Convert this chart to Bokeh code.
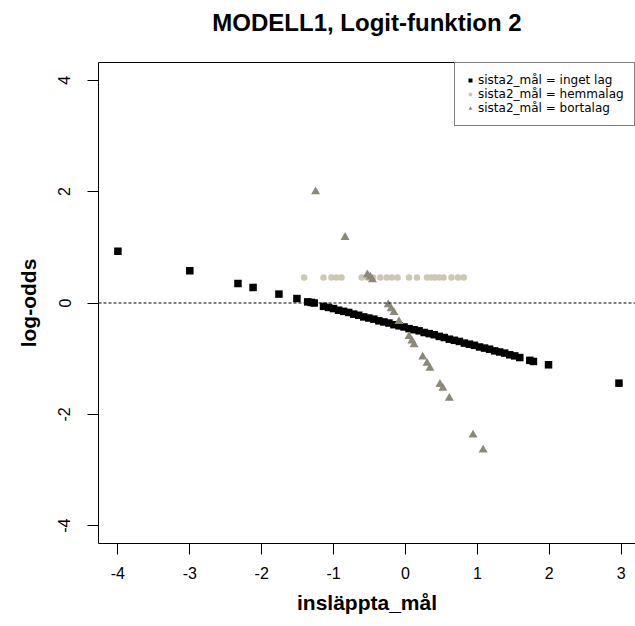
from bokeh.plotting import figure
from bokeh.models import Range1d, LinearAxis, FixedTicker, Span, Legend, LegendItem
from bokeh.embed import file_html
from bokeh.resources import INLINE

title_text = "MODELL1, Logit-funktion 2"
x_label = "insläppta_mål"
y_label = "log-odds"
series_labels = ["sista2_mål = inget lag", "sista2_mål = hemmalag", "sista2_mål = bortalag"]
series_colors = ["#000000", "#CDC8B1", "#8B8878"]

x_ticks = [-4, -3, -2, -1, 0, 1, 2, 3]
x_tick_labels = ["-4", "-3", "-2", "-1", "0", "1", "2", "3"]
y_ticks = [-4, -2, 0, 2, 4]
y_tick_labels = ["-4", "-2", "0", "2", "4"]

# inget lag (black squares)
inget_x = [-4.00, -3.00, -2.33, -2.12, -1.76, -1.51, -1.36, -1.31, -1.27,
           -1.14, -1.07, -1.00, -0.93, -0.86, -0.79, -0.72, -0.65, -0.58, -0.51,
           -0.44, -0.37, -0.30, -0.23, -0.16, -0.09, -0.02, 0.05, 0.12, 0.19,
           0.26, 0.33, 0.40, 0.47, 0.54, 0.61, 0.68, 0.75, 0.82, 0.89,
           0.96, 1.03, 1.10, 1.17, 1.24, 1.31, 1.38, 1.45, 1.52, 1.59,
           1.73, 1.78, 1.99, 2.97]
inget_y = [0.93, 0.58, 0.35, 0.28, 0.16, 0.08, 0.02, 0.01, 0.00,
           -0.06, -0.08, -0.10, -0.13, -0.15, -0.17, -0.20, -0.22, -0.25, -0.27,
           -0.29, -0.32, -0.34, -0.36, -0.39, -0.41, -0.43, -0.46, -0.48, -0.50,
           -0.53, -0.55, -0.57, -0.60, -0.62, -0.65, -0.67, -0.69, -0.72, -0.74,
           -0.76, -0.79, -0.81, -0.83, -0.86, -0.88, -0.90, -0.93, -0.95, -0.98,
           -1.03, -1.05, -1.11, -1.44]

# hemmalag (beige circles)
hemma_x = [-1.41, -1.14, -1.03, -0.96, -0.89, -0.61, -0.53, -0.45, -0.35,
           -0.26, -0.19, -0.11, 0.05, 0.16, 0.30, 0.36, 0.41, 0.47, 0.53,
           0.64, 0.73, 0.81]
hemma_y = [0.46, 0.46, 0.46, 0.46, 0.46, 0.46, 0.46, 0.46, 0.46,
           0.46, 0.46, 0.46, 0.46, 0.46, 0.46, 0.46, 0.46, 0.46, 0.46,
           0.46, 0.46, 0.46]

# bortalag (grey triangles)
borta_x = [-1.25, -0.84, -0.53, -0.49, -0.46, -0.24, -0.20, -0.16, -0.09,
           0.05, 0.09, 0.12, 0.24, 0.30, 0.34, 0.48, 0.52, 0.61, 0.94, 1.08]
borta_y = [2.00, 1.18, 0.51, 0.47, 0.42, -0.03, -0.10, -0.17, -0.33,
           -0.60, -0.68, -0.75, -0.97, -1.08, -1.17, -1.46, -1.53, -1.71, -2.37, -2.64]

FONT = "Liberation Sans"

p = figure(width=635, height=626,
           x_range=Range1d(-4.27, 3.20), y_range=Range1d(-4.32, 4.32),
           output_backend="svg", toolbar_location=None,
           min_border_left=98, min_border_right=0,
           min_border_top=62, min_border_bottom=83)

p.outline_line_color = None
p.grid.visible = False
p.background_fill_color = "white"
p.border_fill_color = "white"

xa = p.xaxis[0]
ya = p.yaxis[0]
xa.ticker = FixedTicker(ticks=x_ticks)
xa.major_label_overrides = {t: l for t, l in zip(x_ticks, x_tick_labels)}
ya.ticker = FixedTicker(ticks=y_ticks)
ya.major_label_overrides = {t: l for t, l in zip(y_ticks, y_tick_labels)}
ya.major_label_orientation = "parallel"
xa.axis_label = x_label
ya.axis_label = y_label

for ax in (xa, ya):
    ax.axis_line_color = "black"
    ax.axis_line_width = 1
    ax.major_tick_line_color = "black"
    ax.major_tick_out = 11
    ax.major_tick_in = 0
    ax.minor_tick_line_color = None
    ax.major_label_text_font = FONT
    ax.major_label_text_font_size = "16px"
    ax.major_label_text_color = "black"
    ax.axis_label_text_font = FONT
    ax.axis_label_text_font_size = "21px"
    ax.axis_label_text_font_style = "bold"
    ax.axis_label_text_color = "black"

xa.major_label_standoff = 12
xa.axis_label_standoff = 9
ya.major_label_standoff = 17
ya.axis_label_standoff = 16

# top frame edge carrying the chart title
top_axis = LinearAxis(ticker=FixedTicker(ticks=[]), axis_line_color="black",
                      major_tick_line_color=None, minor_tick_line_color=None,
                      major_tick_out=0, major_label_standoff=0,
                      major_label_text_font_size="0px",
                      axis_label=title_text,
                      axis_label_text_font=FONT,
                      axis_label_text_font_size="24px",
                      axis_label_text_font_style="bold",
                      axis_label_text_color="black",
                      axis_label_standoff=27)
p.add_layout(top_axis, "above")

zero_line = Span(location=0, dimension="width", line_color="black",
                 line_width=1, line_dash="3 2")
p.add_layout(zero_line)

r1 = p.scatter(inget_x, inget_y, marker="square", size=7.5,
               fill_color=series_colors[0], line_color=None)
r2 = p.scatter(hemma_x, hemma_y, marker="circle", size=6.5,
               fill_color=series_colors[1], line_color=None)
r3 = p.scatter(borta_x, borta_y, marker="triangle", size=9,
               fill_color=series_colors[2], line_color=None)

legend = Legend(items=[LegendItem(label=series_labels[0], renderers=[r1]),
                       LegendItem(label=series_labels[1], renderers=[r2]),
                       LegendItem(label=series_labels[2], renderers=[r3])],
                location=(356, 417), margin=0, padding=10, spacing=0,
                glyph_width=10, glyph_height=12, label_standoff=3,
                label_height=14,
                label_text_font="DejaVu Sans", label_text_font_size="12px",
                label_text_color="black",
                border_line_color="black", border_line_width=1,
                background_fill_color="white", background_fill_alpha=1)
p.add_layout(legend)

open("out.html", "w").write(file_html(p, INLINE))
